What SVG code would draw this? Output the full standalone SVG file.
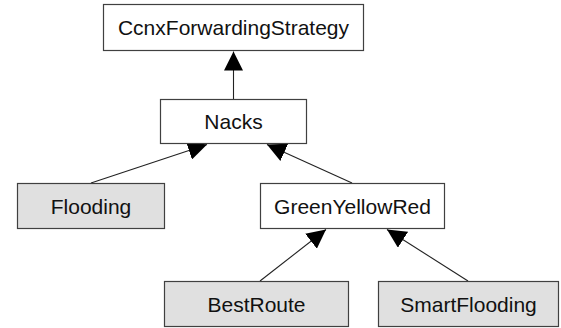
<svg xmlns="http://www.w3.org/2000/svg" width="561" height="328" viewBox="0 0 561 328">
<style>
.box{fill:#ffffff;stroke:#404040;stroke-width:1.2}
.sub{fill:#e0e0e0}
.lbl{font-family:"Liberation Sans",Arial,sans-serif;font-size:21px;fill:#111111;text-anchor:middle}
.edge{stroke:#222222;stroke-width:1.1;fill:none;marker-end:url(#tri)}
</style>
<defs>
<marker id="tri" markerUnits="userSpaceOnUse" markerWidth="19" markerHeight="19" refX="19" refY="9.5" orient="auto" viewBox="0 0 19 19">
<path d="M0,0 L19,9.5 L0,19 z" fill="#000000"/>
</marker>
</defs>
<rect width="561" height="328" fill="#ffffff"/>
<g id="connectors">
<line class="edge" x1="233.5" y1="99" x2="233.5" y2="51.5"/>
<line class="edge" x1="91" y1="183" x2="207" y2="144.5"/>
<line class="edge" x1="352" y1="183" x2="267" y2="144.5"/>
<line class="edge" x1="260" y1="281" x2="326" y2="229.5"/>
<line class="edge" x1="468" y1="281" x2="387" y2="229.5"/>
</g>
<g id="CcnxForwardingStrategy">
<rect class="box" x="103.5" y="4.5" width="260" height="46"/>
<text class="lbl" x="233.5" y="35">CcnxForwardingStrategy</text>
</g>
<g id="Nacks">
<rect class="box" x="160.5" y="99.5" width="146" height="44"/>
<text class="lbl" x="233.5" y="129">Nacks</text>
</g>
<g id="Flooding">
<rect class="box sub" x="17.5" y="183.5" width="147" height="45"/>
<text class="lbl" x="91" y="213.5">Flooding</text>
</g>
<g id="GreenYellowRed">
<rect class="box" x="260.5" y="183.5" width="184" height="45"/>
<text class="lbl" x="352.5" y="213.5">GreenYellowRed</text>
</g>
<g id="BestRoute">
<rect class="box sub" x="164.5" y="281.5" width="184" height="45"/>
<text class="lbl" x="256.5" y="311.5">BestRoute</text>
</g>
<g id="SmartFlooding">
<rect class="box sub" x="378.5" y="281.5" width="180" height="45"/>
<text class="lbl" x="468.5" y="311.5">SmartFlooding</text>
</g>
</svg>
